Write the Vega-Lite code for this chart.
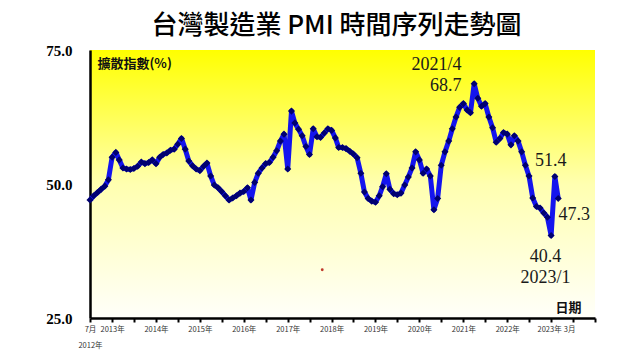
{
  "$schema": "https://vega.github.io/schema/vega-lite/v6.json",
  "autosize": {"type": "none"},
  "width": 505,
  "height": 268,
  "padding": {"left": 90, "top": 50, "right": 45, "bottom": 42},
  "background": "white",
  "title": {"text": "台灣製造業 PMI 時間序列走勢圖", "font": "Noto Sans CJK TC", "fontSize": 26, "fontWeight": 500, "color": "#000000", "anchor": "middle", "offset": 4, "dx": -6},
  "config": {
    "view": {"stroke": null, "fill": {"gradient": "linear", "x1": 0, "y1": 0, "x2": 0, "y2": 1, "stops": [{"offset": 0, "color": "#ffff00"}, {"offset": 0.5, "color": "#ffffb0"}, {"offset": 1, "color": "#fffffa"}]}}
  },
  "datasets": {
    "pmi": [
      {"date": "2012/07/01", "pmi": 47.0}, {"date": "2012/08/01", "pmi": 47.8}, {"date": "2012/09/01", "pmi": 48.4}, {"date": "2012/10/01", "pmi": 49.0}, {"date": "2012/11/01", "pmi": 49.6}, {"date": "2012/12/01", "pmi": 50.8},
      {"date": "2013/01/01", "pmi": 55.0}, {"date": "2013/02/01", "pmi": 55.9}, {"date": "2013/03/01", "pmi": 54.5}, {"date": "2013/04/01", "pmi": 53.0}, {"date": "2013/05/01", "pmi": 52.8}, {"date": "2013/06/01", "pmi": 52.7},
      {"date": "2013/07/01", "pmi": 52.9}, {"date": "2013/08/01", "pmi": 53.3}, {"date": "2013/09/01", "pmi": 54.1}, {"date": "2013/10/01", "pmi": 53.8}, {"date": "2013/11/01", "pmi": 54.0}, {"date": "2013/12/01", "pmi": 54.5},
      {"date": "2014/01/01", "pmi": 53.8}, {"date": "2014/02/01", "pmi": 55.0}, {"date": "2014/03/01", "pmi": 55.5}, {"date": "2014/04/01", "pmi": 55.8}, {"date": "2014/05/01", "pmi": 56.3}, {"date": "2014/06/01", "pmi": 56.5},
      {"date": "2014/07/01", "pmi": 57.4}, {"date": "2014/08/01", "pmi": 58.5}, {"date": "2014/09/01", "pmi": 56.5}, {"date": "2014/10/01", "pmi": 54.3}, {"date": "2014/11/01", "pmi": 53.4}, {"date": "2014/12/01", "pmi": 52.8},
      {"date": "2015/01/01", "pmi": 52.5}, {"date": "2015/02/01", "pmi": 53.3}, {"date": "2015/03/01", "pmi": 53.9}, {"date": "2015/04/01", "pmi": 51.5}, {"date": "2015/05/01", "pmi": 49.8}, {"date": "2015/06/01", "pmi": 49.3},
      {"date": "2015/07/01", "pmi": 48.6}, {"date": "2015/08/01", "pmi": 47.8}, {"date": "2015/09/01", "pmi": 47.0}, {"date": "2015/10/01", "pmi": 47.4}, {"date": "2015/11/01", "pmi": 47.8}, {"date": "2015/12/01", "pmi": 48.3},
      {"date": "2016/01/01", "pmi": 48.6}, {"date": "2016/02/01", "pmi": 49.3}, {"date": "2016/03/01", "pmi": 47.0}, {"date": "2016/04/01", "pmi": 50.3}, {"date": "2016/05/01", "pmi": 52.0}, {"date": "2016/06/01", "pmi": 53.0},
      {"date": "2016/07/01", "pmi": 53.8}, {"date": "2016/08/01", "pmi": 54.0}, {"date": "2016/09/01", "pmi": 55.0}, {"date": "2016/10/01", "pmi": 56.2}, {"date": "2016/11/01", "pmi": 58.0}, {"date": "2016/12/01", "pmi": 59.3},
      {"date": "2017/01/01", "pmi": 52.8}, {"date": "2017/02/01", "pmi": 63.6}, {"date": "2017/03/01", "pmi": 61.4}, {"date": "2017/04/01", "pmi": 60.2}, {"date": "2017/05/01", "pmi": 59.0}, {"date": "2017/06/01", "pmi": 57.0},
      {"date": "2017/07/01", "pmi": 55.5}, {"date": "2017/08/01", "pmi": 60.3}, {"date": "2017/09/01", "pmi": 58.8}, {"date": "2017/10/01", "pmi": 58.7}, {"date": "2017/11/01", "pmi": 59.5}, {"date": "2017/12/01", "pmi": 60.3},
      {"date": "2018/01/01", "pmi": 60.0}, {"date": "2018/02/01", "pmi": 58.6}, {"date": "2018/03/01", "pmi": 56.8}, {"date": "2018/04/01", "pmi": 56.8}, {"date": "2018/05/01", "pmi": 56.6}, {"date": "2018/06/01", "pmi": 56.1},
      {"date": "2018/07/01", "pmi": 55.6}, {"date": "2018/08/01", "pmi": 54.9}, {"date": "2018/09/01", "pmi": 52.0}, {"date": "2018/10/01", "pmi": 48.5}, {"date": "2018/11/01", "pmi": 47.3}, {"date": "2018/12/01", "pmi": 46.8},
      {"date": "2019/01/01", "pmi": 46.6}, {"date": "2019/02/01", "pmi": 47.8}, {"date": "2019/03/01", "pmi": 49.5}, {"date": "2019/04/01", "pmi": 51.9}, {"date": "2019/05/01", "pmi": 49.0}, {"date": "2019/06/01", "pmi": 48.2},
      {"date": "2019/07/01", "pmi": 48.0}, {"date": "2019/08/01", "pmi": 48.3}, {"date": "2019/09/01", "pmi": 49.8}, {"date": "2019/10/01", "pmi": 51.3}, {"date": "2019/11/01", "pmi": 53.0}, {"date": "2019/12/01", "pmi": 56.0},
      {"date": "2020/01/01", "pmi": 54.5}, {"date": "2020/02/01", "pmi": 52.0}, {"date": "2020/03/01", "pmi": 52.8}, {"date": "2020/04/01", "pmi": 51.5}, {"date": "2020/05/01", "pmi": 45.2}, {"date": "2020/06/01", "pmi": 47.3},
      {"date": "2020/07/01", "pmi": 53.5}, {"date": "2020/08/01", "pmi": 56.0}, {"date": "2020/09/01", "pmi": 58.0}, {"date": "2020/10/01", "pmi": 60.3}, {"date": "2020/11/01", "pmi": 62.5}, {"date": "2020/12/01", "pmi": 64.3},
      {"date": "2021/01/01", "pmi": 65.0}, {"date": "2021/02/01", "pmi": 63.8}, {"date": "2021/03/01", "pmi": 63.3}, {"date": "2021/04/01", "pmi": 68.7}, {"date": "2021/05/01", "pmi": 66.0}, {"date": "2021/06/01", "pmi": 64.5},
      {"date": "2021/07/01", "pmi": 65.0}, {"date": "2021/08/01", "pmi": 62.5}, {"date": "2021/09/01", "pmi": 60.5}, {"date": "2021/10/01", "pmi": 57.8}, {"date": "2021/11/01", "pmi": 58.5}, {"date": "2021/12/01", "pmi": 59.6},
      {"date": "2022/01/01", "pmi": 59.3}, {"date": "2022/02/01", "pmi": 57.3}, {"date": "2022/03/01", "pmi": 59.0}, {"date": "2022/04/01", "pmi": 58.0}, {"date": "2022/05/01", "pmi": 56.0}, {"date": "2022/06/01", "pmi": 53.5},
      {"date": "2022/07/01", "pmi": 51.5}, {"date": "2022/08/01", "pmi": 47.4}, {"date": "2022/09/01", "pmi": 45.8}, {"date": "2022/10/01", "pmi": 45.5}, {"date": "2022/11/01", "pmi": 44.6}, {"date": "2022/12/01", "pmi": 43.8},
      {"date": "2023/01/01", "pmi": 40.4}, {"date": "2023/02/01", "pmi": 51.4}, {"date": "2023/03/01", "pmi": 47.3}
    ],
    "notes": [
      {"date": "2020/05/22", "v": 72.2, "label": "2021/4"},
      {"date": "2020/08/07", "v": 68.2, "label": "68.7"},
      {"date": "2022/12/28", "v": 54.3, "label": "51.4"},
      {"date": "2023/07/13", "v": 44.2, "label": "47.3"},
      {"date": "2022/11/15", "v": 36.4, "label": "40.4"},
      {"date": "2022/11/15", "v": 32.5, "label": "2023/1"}
    ]
  },
  "encoding": {
    "x": {"field": "date", "type": "temporal",
      "scale": {"domain": [{"year": 2012, "month": 7, "date": 1}, {"year": 2024, "month": 1, "date": 1}]},
      "axis": {"title": null, "grid": false,
        "values": [{"year": 2012, "month": 7, "date": 1}, {"year": 2013, "month": 1, "date": 1}, {"year": 2013, "month": 7, "date": 1}, {"year": 2014, "month": 1, "date": 1}, {"year": 2014, "month": 7, "date": 1}, {"year": 2015, "month": 1, "date": 1}, {"year": 2015, "month": 7, "date": 1}, {"year": 2016, "month": 1, "date": 1}, {"year": 2016, "month": 7, "date": 1}, {"year": 2017, "month": 1, "date": 1}, {"year": 2017, "month": 7, "date": 1}, {"year": 2018, "month": 1, "date": 1}, {"year": 2018, "month": 7, "date": 1}, {"year": 2019, "month": 1, "date": 1}, {"year": 2019, "month": 7, "date": 1}, {"year": 2020, "month": 1, "date": 1}, {"year": 2020, "month": 7, "date": 1}, {"year": 2021, "month": 1, "date": 1}, {"year": 2021, "month": 7, "date": 1}, {"year": 2022, "month": 1, "date": 1}, {"year": 2022, "month": 7, "date": 1}, {"year": 2023, "month": 1, "date": 1}, {"year": 2023, "month": 3, "date": 1}, {"year": 2023, "month": 7, "date": 1}, {"year": 2024, "month": 1, "date": 1}],
        "labelExpr": "year(datum.value) == 2012 ? ['7月', '2012年'] : (year(datum.value) == 2023 && month(datum.value) == 2) ? '3月' : (month(datum.value) == 0 && year(datum.value) < 2024) ? year(datum.value) + '年' : ''",
        "labelAlign": {"expr": "month(datum.value) == 2 ? 'left' : 'center'"},
        "labelOffset": {"expr": "month(datum.value) == 2 ? 5 : (year(datum.value) == 2023 ? -2 : 0)"},
        "labelFont": "Noto Sans CJK TC", "labelFontSize": 7.5, "labelColor": "#333333", "labelOverlap": false, "labelFlush": false, "labelPadding": 3, "labelLineHeight": 16,
        "domainColor": "#000000", "domainWidth": 2.5, "tickColor": "#000000", "tickWidth": 2, "tickSize": 4,
        "tickOpacity": {"expr": "month(datum.value) == 2 ? 0 : 1"}}
    }
  },
  "layer": [
    {"data": {"values": [{"v": 50}]}, "mark": {"type": "rule", "color": "#e6e0b8", "strokeWidth": 1}, "encoding": {"y": {"field": "v", "type": "quantitative"}, "x": {"datum": {"year": 2012, "month": 7, "date": 1}, "type": "temporal"}, "x2": {"datum": {"year": 2024, "month": 1, "date": 1}}}},
    {"data": {"name": "pmi"}, "mark": {"type": "line", "color": "#1414ee", "strokeWidth": 5, "strokeJoin": "round"},
      "encoding": {"y": {"field": "pmi", "type": "quantitative", "scale": {"domain": [25, 75], "nice": false, "zero": false},
        "axis": {"title": null, "grid": false, "values": [25, 50, 75], "format": ".1f", "labelFont": "Liberation Serif", "labelFontWeight": "bold", "labelFontSize": 15, "labelColor": "#000000", "labelPadding": 18, "ticks": false, "domainColor": "#000000", "domainWidth": 2.5}}}},
    {"data": {"name": "pmi"}, "mark": {"type": "point", "shape": "diamond", "filled": true, "size": 50, "color": "#000070", "opacity": 1},
      "encoding": {"y": {"field": "pmi", "type": "quantitative"}}},
    {"data": {"values": [{"date": "2017/10/15", "v": 34.0}]}, "mark": {"type": "circle", "size": 8, "color": "#c0392b", "opacity": 1},
      "encoding": {"y": {"field": "v", "type": "quantitative"}}},
    {"data": {"name": "notes"}, "mark": {"type": "text", "font": "Liberation Serif", "fontSize": 18, "color": "#1a1a1a", "align": "center", "baseline": "middle"},
      "encoding": {"y": {"field": "v", "type": "quantitative"}, "text": {"field": "label"}}},
    {"data": {"values": [{"date": "2012/09/01", "v": 72.3, "label": "擴散指數(%)"}]}, "mark": {"type": "text", "font": "Noto Sans CJK TC", "fontWeight": "bold", "fontSize": 13, "color": "#111111", "align": "left", "baseline": "middle"},
      "encoding": {"y": {"field": "v", "type": "quantitative"}, "text": {"field": "label"}}},
    {"data": {"values": [{"date": "2023/05/25", "v": 26.8, "label": "日期"}]}, "mark": {"type": "text", "font": "Noto Sans CJK TC", "fontWeight": "bold", "fontSize": 13, "color": "#111111", "align": "center", "baseline": "middle"},
      "encoding": {"y": {"field": "v", "type": "quantitative"}, "text": {"field": "label"}}}
  ]
}
